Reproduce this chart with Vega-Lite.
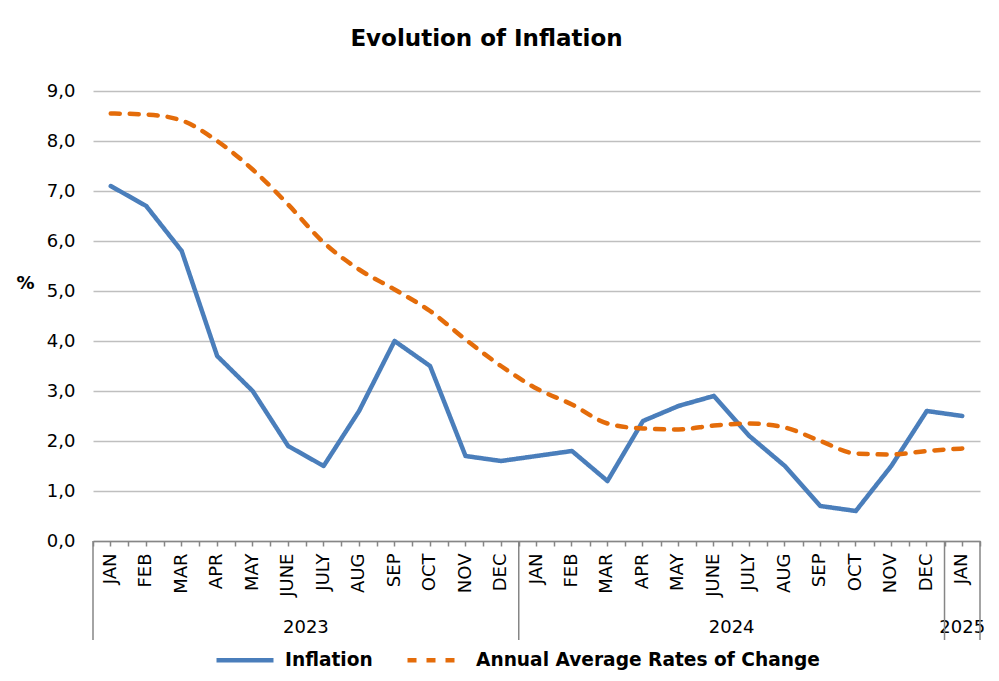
{
  "$schema": "https://vega.github.io/schema/vega-lite/v6.json",
  "width": 887,
  "height": 450,
  "autosize": "none",
  "padding": {"left": 93, "top": 91, "right": 19, "bottom": 140},
  "background": "white",
  "title": {
    "text": "Evolution of Inflation",
    "font": "DejaVu Sans",
    "fontSize": 23,
    "fontWeight": "bold",
    "color": "black",
    "anchor": "middle",
    "dx": -50,
    "offset": 31
  },
  "datasets": {
    "rates": [
      {"period": "JAN 2023", "series": "Inflation", "value": 7.1},
      {"period": "FEB 2023", "series": "Inflation", "value": 6.7},
      {"period": "MAR 2023", "series": "Inflation", "value": 5.8},
      {"period": "APR 2023", "series": "Inflation", "value": 3.7},
      {"period": "MAY 2023", "series": "Inflation", "value": 3.0},
      {"period": "JUNE 2023", "series": "Inflation", "value": 1.9},
      {"period": "JULY 2023", "series": "Inflation", "value": 1.5},
      {"period": "AUG 2023", "series": "Inflation", "value": 2.6},
      {"period": "SEP 2023", "series": "Inflation", "value": 4.0},
      {"period": "OCT 2023", "series": "Inflation", "value": 3.5},
      {"period": "NOV 2023", "series": "Inflation", "value": 1.7},
      {"period": "DEC 2023", "series": "Inflation", "value": 1.6},
      {"period": "JAN 2024", "series": "Inflation", "value": 1.7},
      {"period": "FEB 2024", "series": "Inflation", "value": 1.8},
      {"period": "MAR 2024", "series": "Inflation", "value": 1.2},
      {"period": "APR 2024", "series": "Inflation", "value": 2.4},
      {"period": "MAY 2024", "series": "Inflation", "value": 2.7},
      {"period": "JUNE 2024", "series": "Inflation", "value": 2.9},
      {"period": "JULY 2024", "series": "Inflation", "value": 2.1},
      {"period": "AUG 2024", "series": "Inflation", "value": 1.5},
      {"period": "SEP 2024", "series": "Inflation", "value": 0.7},
      {"period": "OCT 2024", "series": "Inflation", "value": 0.6},
      {"period": "NOV 2024", "series": "Inflation", "value": 1.5},
      {"period": "DEC 2024", "series": "Inflation", "value": 2.6},
      {"period": "JAN 2025", "series": "Inflation", "value": 2.5},
      {"period": "JAN 2023", "series": "Annual Average Rates of Change", "value": 8.55},
      {"period": "FEB 2023", "series": "Annual Average Rates of Change", "value": 8.53},
      {"period": "MAR 2023", "series": "Annual Average Rates of Change", "value": 8.41},
      {"period": "APR 2023", "series": "Annual Average Rates of Change", "value": 8.0},
      {"period": "MAY 2023", "series": "Annual Average Rates of Change", "value": 7.43},
      {"period": "JUNE 2023", "series": "Annual Average Rates of Change", "value": 6.73},
      {"period": "JULY 2023", "series": "Annual Average Rates of Change", "value": 5.97},
      {"period": "AUG 2023", "series": "Annual Average Rates of Change", "value": 5.43},
      {"period": "SEP 2023", "series": "Annual Average Rates of Change", "value": 5.03},
      {"period": "OCT 2023", "series": "Annual Average Rates of Change", "value": 4.6},
      {"period": "NOV 2023", "series": "Annual Average Rates of Change", "value": 4.03},
      {"period": "DEC 2023", "series": "Annual Average Rates of Change", "value": 3.5},
      {"period": "JAN 2024", "series": "Annual Average Rates of Change", "value": 3.05},
      {"period": "FEB 2024", "series": "Annual Average Rates of Change", "value": 2.73},
      {"period": "MAR 2024", "series": "Annual Average Rates of Change", "value": 2.35},
      {"period": "APR 2024", "series": "Annual Average Rates of Change", "value": 2.25},
      {"period": "MAY 2024", "series": "Annual Average Rates of Change", "value": 2.23},
      {"period": "JUNE 2024", "series": "Annual Average Rates of Change", "value": 2.31},
      {"period": "JULY 2024", "series": "Annual Average Rates of Change", "value": 2.35},
      {"period": "AUG 2024", "series": "Annual Average Rates of Change", "value": 2.27},
      {"period": "SEP 2024", "series": "Annual Average Rates of Change", "value": 2.0},
      {"period": "OCT 2024", "series": "Annual Average Rates of Change", "value": 1.75},
      {"period": "NOV 2024", "series": "Annual Average Rates of Change", "value": 1.73},
      {"period": "DEC 2024", "series": "Annual Average Rates of Change", "value": 1.8},
      {"period": "JAN 2025", "series": "Annual Average Rates of Change", "value": 1.85}
    ],
    "years": [
      {"year": "2023", "at": "JULY 2023", "span": "full"},
      {"year": "2024", "at": "JULY 2024", "span": "full"},
      {"year": "2025", "at": "JAN 2025", "span": "single"}
    ],
    "bounds": [
      {"at": "JAN 2023", "edge": "start"},
      {"at": "JAN 2024", "edge": "start"},
      {"at": "JAN 2025", "edge": "start"},
      {"at": "JAN 2025", "edge": "end"}
    ]
  },
  "layer": [
    {
      "data": {"name": "rates"},
      "transform": [{"filter": "datum.series === 'Inflation'"}],
      "mark": {"type": "line", "strokeWidth": 4.5, "strokeJoin": "round", "strokeCap": "round"},
      "encoding": {
        "x": {
          "field": "period", "type": "ordinal", "sort": null,
          "scale": {"domain": ["JAN 2023","FEB 2023","MAR 2023","APR 2023","MAY 2023","JUNE 2023","JULY 2023","AUG 2023","SEP 2023","OCT 2023","NOV 2023","DEC 2023","JAN 2024","FEB 2024","MAR 2024","APR 2024","MAY 2024","JUNE 2024","JULY 2024","AUG 2024","SEP 2024","OCT 2024","NOV 2024","DEC 2024","JAN 2025"]},
          "axis": {
            "orient": "bottom", "title": null, "ticks": false, "grid": false,
            "domain": true, "domainColor": "#868686", "domainWidth": 1.5,
            "labelExpr": "split(datum.label, ' ')[0]",
            "labelAngle": 270, "labelAlign": "right", "labelBaseline": "middle",
            "labelPadding": 12, "labelFont": "DejaVu Sans", "labelFontSize": 18, "labelColor": "black"
          }
        },
        "y": {
          "field": "value", "type": "quantitative", "title": "%",
          "scale": {"domain": [0, 9], "nice": false},
          "axis": {
            "values": [0,1,2,3,4,5,6,7,8,9],
            "labelExpr": "replace(format(datum.value, '.1f'), '.', ',')",
            "ticks": false, "domain": false,
            "grid": true, "gridColor": "#BFBFBF", "gridWidth": 1.5,
            "labelPadding": 18, "labelFont": "DejaVu Sans", "labelFontSize": 18, "labelColor": "black",
            "titleAngle": 0, "titleX": -68, "titleY": 192, "titleAlign": "center", "titleBaseline": "middle",
            "titleFont": "DejaVu Sans", "titleFontSize": 18, "titleFontWeight": "bold", "titleColor": "black"
          }
        },
        "color": {
          "field": "series", "type": "nominal", "title": null,
          "scale": {"domain": ["Inflation", "Annual Average Rates of Change"], "range": ["#4A7EBB", "#E46C0A"]},
          "legend": {"orient": "none", "legendX": 121, "legendY": 538, "direction": "horizontal"}
        },
        "strokeDash": {
          "field": "series", "type": "nominal", "title": null,
          "scale": {"domain": ["Inflation", "Annual Average Rates of Change"], "range": [[1, 0], [9, 10]]},
          "legend": {"orient": "none", "legendX": 121, "legendY": 538, "direction": "horizontal"}
        }
      }
    },
    {
      "data": {"name": "rates"},
      "transform": [{"filter": "datum.series !== 'Inflation'"}],
      "mark": {"type": "line", "strokeWidth": 4.5, "strokeCap": "round", "interpolate": "monotone"},
      "encoding": {
        "x": {
          "field": "period", "type": "ordinal", "sort": null,
          "scale": {"domain": ["JAN 2023","FEB 2023","MAR 2023","APR 2023","MAY 2023","JUNE 2023","JULY 2023","AUG 2023","SEP 2023","OCT 2023","NOV 2023","DEC 2023","JAN 2024","FEB 2024","MAR 2024","APR 2024","MAY 2024","JUNE 2024","JULY 2024","AUG 2024","SEP 2024","OCT 2024","NOV 2024","DEC 2024","JAN 2025"]},
          "axis": {
            "orient": "bottom", "title": null, "labels": false, "domain": false, "grid": false,
            "ticks": true, "tickBand": "extent", "tickColor": "#868686", "tickWidth": 1.5, "tickSize": 5
          }
        },
        "y": {"field": "value", "type": "quantitative", "title": "%", "scale": {"domain": [0, 9], "nice": false}},
        "color": {"field": "series", "type": "nominal", "title": null},
        "strokeDash": {"field": "series", "type": "nominal", "title": null}
      }
    },
    {
      "data": {"name": "years"},
      "transform": [{"filter": "datum.span === 'full'"}],
      "mark": {"type": "text", "font": "DejaVu Sans", "fontSize": 18, "color": "black", "baseline": "middle", "align": "center", "dy": 87},
      "encoding": {
        "x": {
          "field": "at", "type": "ordinal", "sort": null, "bandPosition": 0,
          "scale": {"domain": ["JAN 2023","FEB 2023","MAR 2023","APR 2023","MAY 2023","JUNE 2023","JULY 2023","AUG 2023","SEP 2023","OCT 2023","NOV 2023","DEC 2023","JAN 2024","FEB 2024","MAR 2024","APR 2024","MAY 2024","JUNE 2024","JULY 2024","AUG 2024","SEP 2024","OCT 2024","NOV 2024","DEC 2024","JAN 2025"]},
          "axis": {
            "orient": "bottom", "title": null, "labels": false, "domain": false, "grid": false,
            "ticks": true, "tickBand": "center", "tickColor": "#868686", "tickWidth": 1.5, "tickSize": 5
          }
        },
        "y": {"datum": 0, "type": "quantitative", "scale": {"domain": [0, 9], "nice": false}},
        "text": {"field": "year"}
      }
    },
    {
      "data": {"name": "years"},
      "transform": [{"filter": "datum.span === 'single'"}],
      "mark": {"type": "text", "font": "DejaVu Sans", "fontSize": 18, "color": "black", "baseline": "middle", "align": "center", "dy": 87},
      "encoding": {
        "x": {
          "field": "at", "type": "ordinal", "sort": null,
          "scale": {"domain": ["JAN 2023","FEB 2023","MAR 2023","APR 2023","MAY 2023","JUNE 2023","JULY 2023","AUG 2023","SEP 2023","OCT 2023","NOV 2023","DEC 2023","JAN 2024","FEB 2024","MAR 2024","APR 2024","MAY 2024","JUNE 2024","JULY 2024","AUG 2024","SEP 2024","OCT 2024","NOV 2024","DEC 2024","JAN 2025"]},
          "axis": null
        },
        "y": {"datum": 0, "type": "quantitative", "scale": {"domain": [0, 9], "nice": false}},
        "text": {"field": "year"}
      }
    },
    {
      "data": {"name": "bounds"},
      "transform": [{"filter": "datum.edge === 'start'"}],
      "mark": {"type": "rule", "color": "#868686", "strokeWidth": 1.5},
      "encoding": {
        "x": {
          "field": "at", "type": "ordinal", "sort": null, "bandPosition": 0,
          "scale": {"domain": ["JAN 2023","FEB 2023","MAR 2023","APR 2023","MAY 2023","JUNE 2023","JULY 2023","AUG 2023","SEP 2023","OCT 2023","NOV 2023","DEC 2023","JAN 2024","FEB 2024","MAR 2024","APR 2024","MAY 2024","JUNE 2024","JULY 2024","AUG 2024","SEP 2024","OCT 2024","NOV 2024","DEC 2024","JAN 2025"]},
          "axis": null
        },
        "y": {"datum": 0, "type": "quantitative", "scale": {"domain": [0, 9], "nice": false}},
        "y2": {"datum": -1.98}
      }
    },
    {
      "data": {"name": "bounds"},
      "transform": [{"filter": "datum.edge === 'end'"}],
      "mark": {"type": "rule", "color": "#868686", "strokeWidth": 1.5},
      "encoding": {
        "x": {
          "field": "at", "type": "ordinal", "sort": null, "bandPosition": 1,
          "scale": {"domain": ["JAN 2023","FEB 2023","MAR 2023","APR 2023","MAY 2023","JUNE 2023","JULY 2023","AUG 2023","SEP 2023","OCT 2023","NOV 2023","DEC 2023","JAN 2024","FEB 2024","MAR 2024","APR 2024","MAY 2024","JUNE 2024","JULY 2024","AUG 2024","SEP 2024","OCT 2024","NOV 2024","DEC 2024","JAN 2025"]},
          "axis": null
        },
        "y": {"datum": 0, "type": "quantitative", "scale": {"domain": [0, 9], "nice": false}},
        "y2": {"datum": -1.98}
      }
    }
  ],
  "resolve": {"axis": {"x": "independent"}},
  "config": {
    "view": {"stroke": null},
    "scale": {"bandPaddingInner": 0, "bandPaddingOuter": 0},
    "legend": {
      "symbolType": "stroke", "symbolSize": 3249, "symbolStrokeWidth": 4.5,
      "labelFont": "DejaVu Sans", "labelFontSize": 18.6, "labelFontWeight": "bold", "labelColor": "black",
      "labelOffset": 9, "columnPadding": 25, "padding": 0, "labelLimit": 0
    }
  }
}
